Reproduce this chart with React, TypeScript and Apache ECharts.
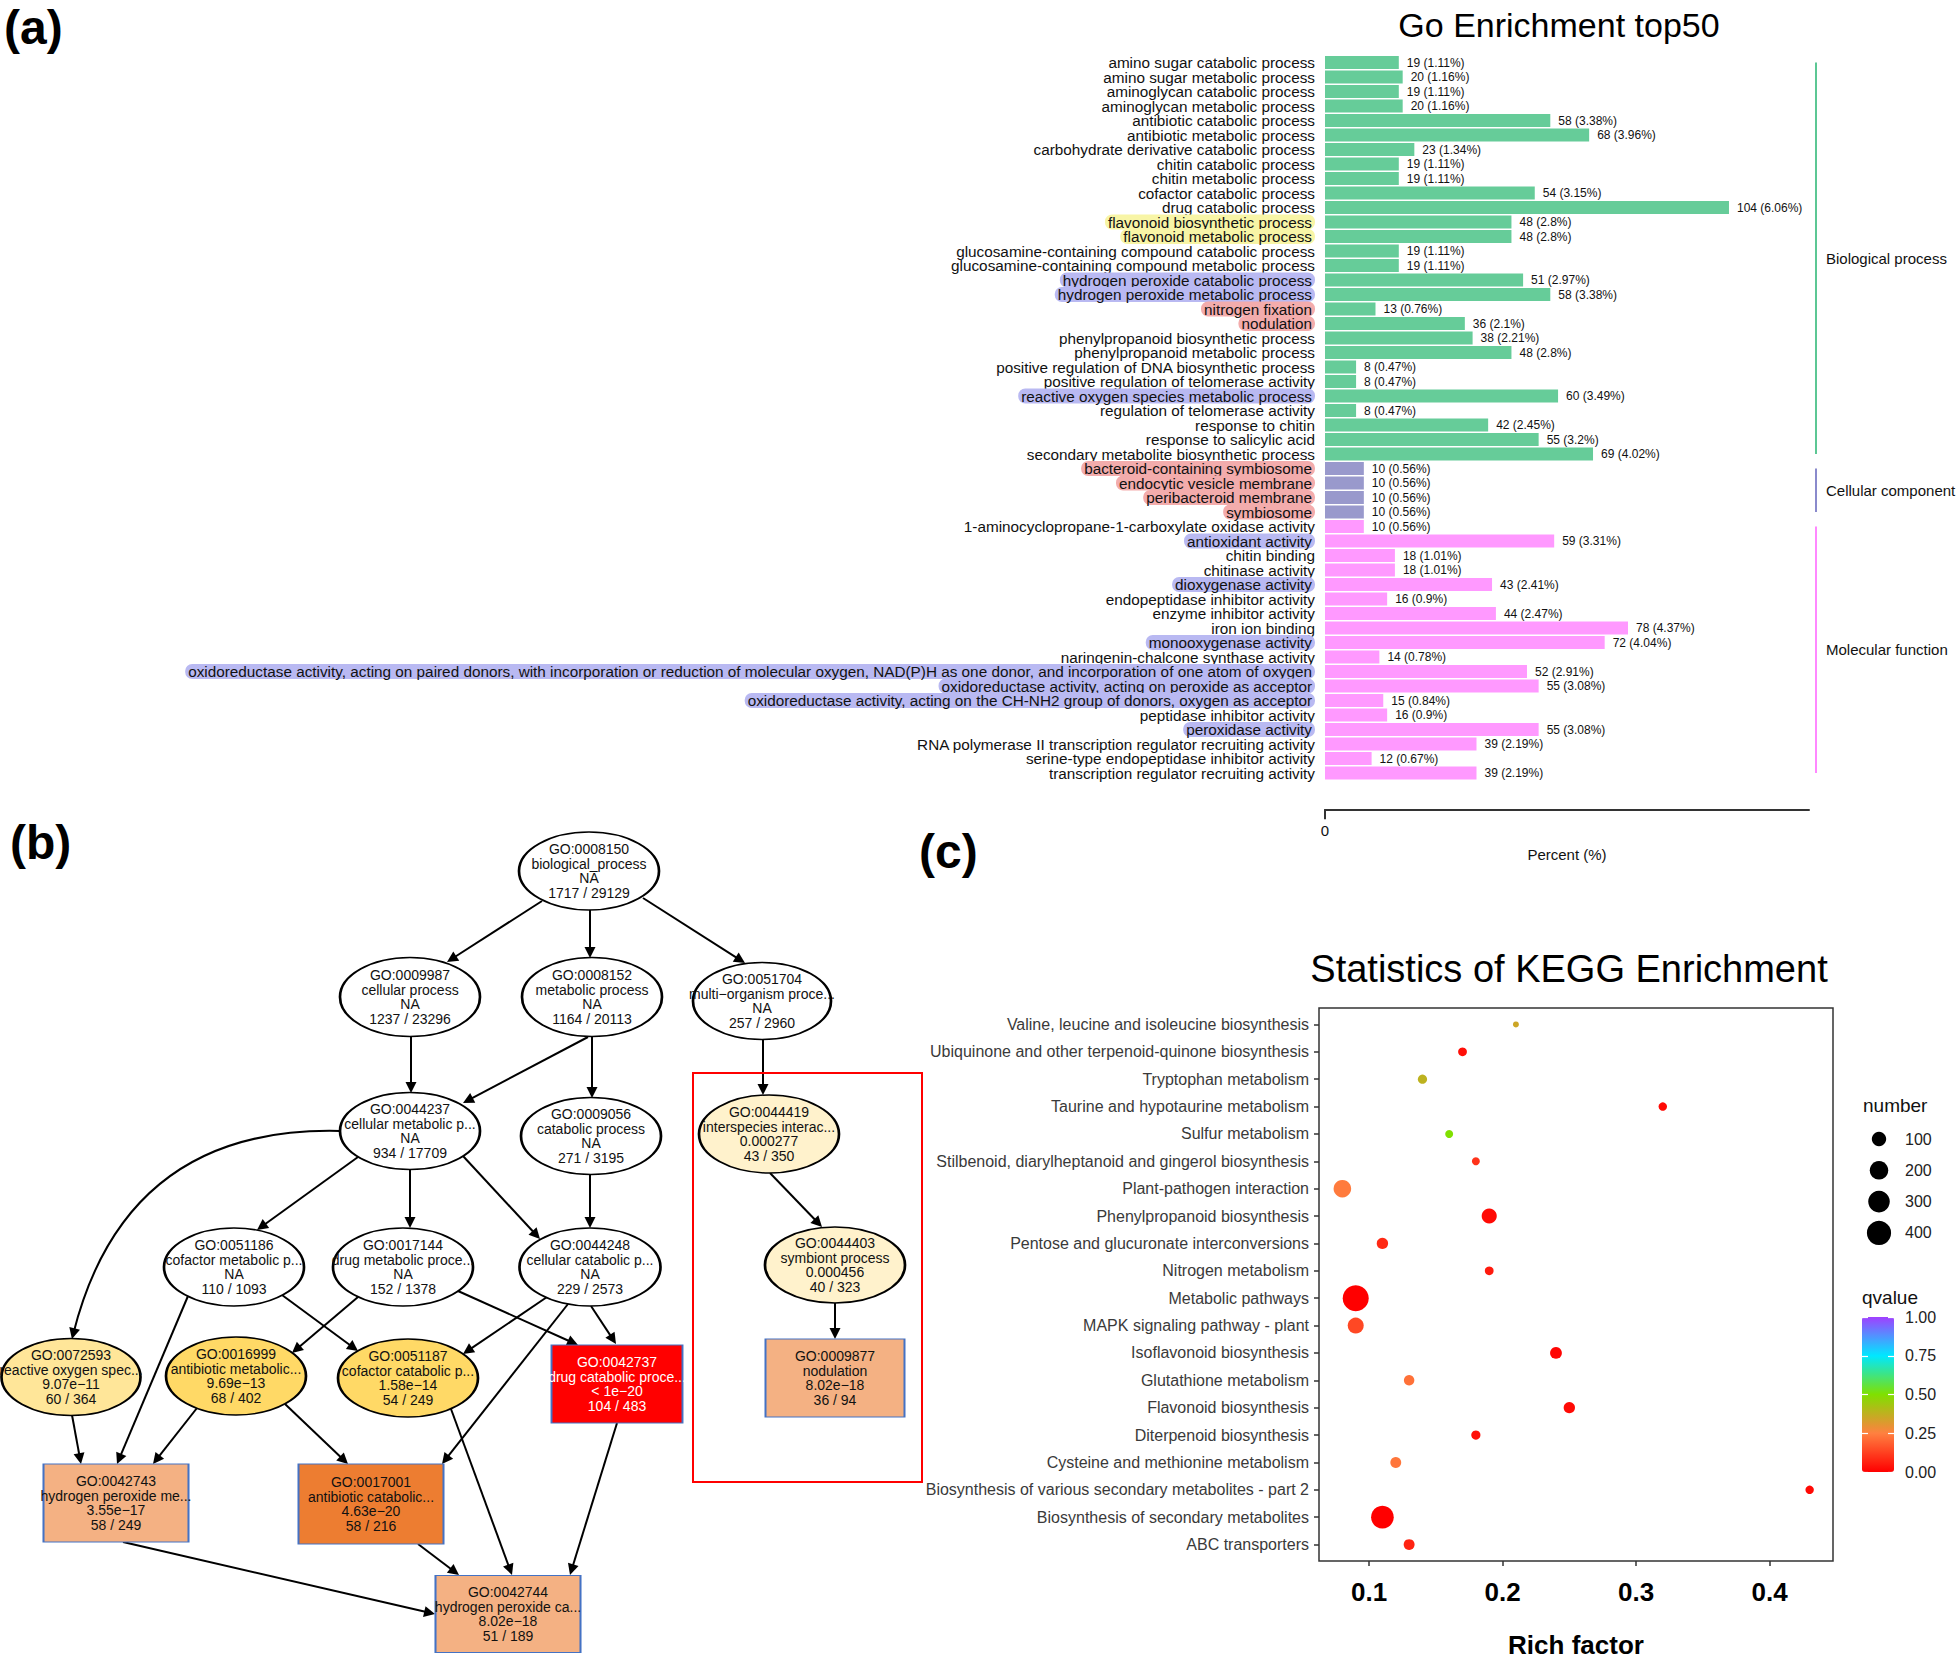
import React, { useEffect, useRef } from 'react';
import * as echarts from 'echarts';

const W = 1959;
const H = 1656;
const FONT = '"Liberation Sans", Arial, Helvetica, sans-serif';

// ---------------- Panel (a): GO enrichment top50 ----------------
const goTerms = [
  'amino sugar catabolic process',
  'amino sugar metabolic process',
  'aminoglycan catabolic process',
  'aminoglycan metabolic process',
  'antibiotic catabolic process',
  'antibiotic metabolic process',
  'carbohydrate derivative catabolic process',
  'chitin catabolic process',
  'chitin metabolic process',
  'cofactor catabolic process',
  'drug catabolic process',
  'flavonoid biosynthetic process',
  'flavonoid metabolic process',
  'glucosamine-containing compound catabolic process',
  'glucosamine-containing compound metabolic process',
  'hydrogen peroxide catabolic process',
  'hydrogen peroxide metabolic process',
  'nitrogen fixation',
  'nodulation',
  'phenylpropanoid biosynthetic process',
  'phenylpropanoid metabolic process',
  'positive regulation of DNA biosynthetic process',
  'positive regulation of telomerase activity',
  'reactive oxygen species metabolic process',
  'regulation of telomerase activity',
  'response to chitin',
  'response to salicylic acid',
  'secondary metabolite biosynthetic process',
  'bacteroid-containing symbiosome',
  'endocytic vesicle membrane',
  'peribacteroid membrane',
  'symbiosome',
  '1-aminocyclopropane-1-carboxylate oxidase activity',
  'antioxidant activity',
  'chitin binding',
  'chitinase activity',
  'dioxygenase activity',
  'endopeptidase inhibitor activity',
  'enzyme inhibitor activity',
  'iron ion binding',
  'monooxygenase activity',
  'naringenin-chalcone synthase activity',
  'oxidoreductase activity, acting on paired donors, with incorporation or reduction of molecular oxygen, NAD(P)H as one donor, and incorporation of one atom of oxygen',
  'oxidoreductase activity, acting on peroxide as acceptor',
  'oxidoreductase activity, acting on the CH-NH2 group of donors, oxygen as acceptor',
  'peptidase inhibitor activity',
  'peroxidase activity',
  'RNA polymerase II transcription regulator recruiting activity',
  'serine-type endopeptidase inhibitor activity',
  'transcription regulator recruiting activity',
];
const goCounts = [
  19, 20, 19, 20, 58, 68, 23, 19, 19, 54, 104, 48, 48, 19, 19, 51, 58, 13, 36, 38, 48, 8, 8, 60, 8, 42, 55, 69,
  10, 10, 10, 10,
  10, 59, 18, 18, 43, 16, 44, 78, 72, 14, 52, 55, 15, 16, 55, 39, 12, 39,
];
const goPercents = [
  1.11, 1.16, 1.11, 1.16, 3.38, 3.96, 1.34, 1.11, 1.11, 3.15, 6.06, 2.8, 2.8, 1.11, 1.11, 2.97, 3.38, 0.76, 2.1, 2.21,
  2.8, 0.47, 0.47, 3.49, 0.47, 2.45, 3.2, 4.02,
  0.56, 0.56, 0.56, 0.56,
  0.56, 3.31, 1.01, 1.01, 2.41, 0.9, 2.47, 4.37, 4.04, 0.78, 2.91, 3.08, 0.84, 0.9, 3.08, 2.19, 0.67, 2.19,
];
const goGroups = [
  'BP', 'BP', 'BP', 'BP', 'BP', 'BP', 'BP', 'BP', 'BP', 'BP', 'BP', 'BP', 'BP', 'BP', 'BP', 'BP', 'BP', 'BP', 'BP', 'BP',
  'BP', 'BP', 'BP', 'BP', 'BP', 'BP', 'BP', 'BP',
  'CC', 'CC', 'CC', 'CC',
  'MF', 'MF', 'MF', 'MF', 'MF', 'MF', 'MF', 'MF', 'MF', 'MF', 'MF', 'MF', 'MF', 'MF', 'MF', 'MF', 'MF', 'MF',
];
// label highlight: y = yellow, b = blue, r = red
const goHighlights = [
  '', '', '', '', '', '', '', '', '', '', '', 'y', 'y', '', '', 'b', 'b', 'r', 'r', '',
  '', '', '', 'b', '', '', '', '',
  'r', 'r', 'r', 'r',
  '', 'b', '', '', 'b', '', '', '', 'b', '', 'b', 'b', 'b', '', 'b', '', '', '',
];
const goGroupOrder = ['BP', 'CC', 'MF'];
const goGroupNames = ['Biological process', 'Cellular component', 'Molecular function'];
const goAxisTicks = [0];

// ---------------- Panel (b): GO DAG ----------------
const dagIds = [
  'GO:0008150', 'GO:0009987', 'GO:0008152', 'GO:0051704', 'GO:0044237', 'GO:0009056', 'GO:0044419',
  'GO:0051186', 'GO:0017144', 'GO:0044248', 'GO:0044403', 'GO:0072593', 'GO:0016999', 'GO:0051187',
  'GO:0042737', 'GO:0009877', 'GO:0042743', 'GO:0017001', 'GO:0042744',
];
const dagNames = [
  'biological_process', 'cellular process', 'metabolic process', 'multi\u2212organism proce...',
  'cellular metabolic p...', 'catabolic process', 'interspecies interac...', 'cofactor metabolic p...',
  'drug metabolic proce...', 'cellular catabolic p...', 'symbiont process', 'reactive oxygen spec...',
  'antibiotic metabolic...', 'cofactor catabolic p...', 'drug catabolic proce...', 'nodulation',
  'hydrogen peroxide me...', 'antibiotic catabolic...', 'hydrogen peroxide ca...',
];
const dagPvalues = [
  'NA', 'NA', 'NA', 'NA', 'NA', 'NA', '0.000277', 'NA', 'NA', 'NA', '0.000456', '9.07e\u221211',
  '9.69e\u221213', '1.58e\u221214', '< 1e\u221220', '8.02e\u221218', '3.55e\u221217', '4.63e\u221220', '8.02e\u221218',
];
const dagCounts = [
  '1717 / 29129', '1237 / 23296', '1164 / 20113', '257 / 2960', '934 / 17709', '271 / 3195', '43 / 350',
  '110 / 1093', '152 / 1378', '229 / 2573', '40 / 323', '60 / 364', '68 / 402', '54 / 249', '104 / 483',
  '36 / 94', '58 / 249', '58 / 216', '51 / 189',
];
const dagEdges = [
  [0, 1], [0, 2], [0, 3], [1, 4], [2, 4], [2, 5], [3, 6], [4, 11], [4, 7], [4, 8], [4, 9], [5, 9], [6, 10],
  [10, 15], [7, 16], [7, 13], [8, 12], [8, 14], [9, 13], [9, 17], [9, 14], [11, 16], [12, 16], [12, 17],
  [13, 18], [14, 18], [17, 18], [16, 18],
];

// layout of the DAG (page pixels)
const dagCenters = [
  [589, 871], [410, 997], [592, 997], [762, 1001], [410, 1131], [591, 1136], [769, 1134], [234, 1267],
  [403, 1267], [590, 1267], [835, 1265], [71, 1377], [236, 1376], [408, 1378], [617, 1384], [835, 1378],
  [116, 1503], [371, 1504], [508, 1614],
];
const dagSizes = [
  [140, 78], [140, 79], [140, 79], [138, 77], [140, 77], [140, 77], [140, 78], [140, 78], [140, 78], [141, 78],
  [140, 76], [139, 77], [140, 78], [140, 78], [131, 78], [139, 78], [145, 78], [145, 80], [145, 77],
];
const dagShapes = [
  'e', 'e', 'e', 'e', 'e', 'e', 'e', 'e', 'e', 'e', 'e', 'e', 'e', 'e', 'r', 'r', 'r', 'r', 'r',
];
const dagFills = [
  '#FFFFFF', '#FFFFFF', '#FFFFFF', '#FFFFFF', '#FFFFFF', '#FFFFFF', '#FFF2CC', '#FFFFFF', '#FFFFFF', '#FFFFFF',
  '#FFF2CC', '#FFE699', '#FFD966', '#FFD966', '#FF0000', '#F4B183', '#F4B183', '#ED7D31', '#F4B183',
];
const edgePorts = [
  [-47, 30, 37, -35], [1, 39, -2, -39], [54, 27, -17, -38], [1, 40, 1, -38], [-4, 40, 53, -28], [0, 40, 1, -38],
  [1, 38, -6, -39], [-70, 0, 1, -38], [-52, 26, 23, -37], [0, 38, 7, -39], [53, 25, -50, -28], [-1, 38, 0, -39],
  [1, 39, -13, -38], [0, 38, 0, -39], [-46, 29, 1, -39], [48, 28, -50, -27], [-45, 30, 56, -23], [55, 24, -39, -39],
  [-43, 30, 55, -24], [-22, 37, 71, -40], [1, 39, -1, -40], [1, 38, -35, -39], [-39, 32, 37, -39], [49, 28, -23, -40],
  [43, 31, 4, -39], [0, 39, 62, -39], [47, 40, -49, -39], [7, 39, -73, 0],
];
const edgeCurves = [0, 0, 0, 0, 0, 0, 0, -0.4, 0, 0, 0, 0, 0, 0, 0, 0, 0, 0, 0, 0, 0, 0, 0, 0, 0, 0, 0, 0];
const ARROW = 11;
const ELLIPSE =
  'path://M0,50 C0,22.4 22.4,0 50,0 C77.6,0 100,22.4 100,50 C100,77.6 77.6,100 50,100 C22.4,100 0,77.6 0,50 Z';

// ---------------- Panel (c): KEGG enrichment ----------------
const keggTerms = [
  'Valine, leucine and isoleucine biosynthesis',
  'Ubiquinone and other terpenoid-quinone biosynthesis',
  'Tryptophan metabolism',
  'Taurine and hypotaurine metabolism',
  'Sulfur metabolism',
  'Stilbenoid, diarylheptanoid and gingerol biosynthesis',
  'Plant-pathogen interaction',
  'Phenylpropanoid biosynthesis',
  'Pentose and glucuronate interconversions',
  'Nitrogen metabolism',
  'Metabolic pathways',
  'MAPK signaling pathway - plant',
  'Isoflavonoid biosynthesis',
  'Glutathione metabolism',
  'Flavonoid biosynthesis',
  'Diterpenoid biosynthesis',
  'Cysteine and methionine metabolism',
  'Biosynthesis of various secondary metabolites - part 2',
  'Biosynthesis of secondary metabolites',
  'ABC transporters',
];
const keggRichFactor = [0.21, 0.17, 0.14, 0.32, 0.16, 0.18, 0.08, 0.19, 0.11, 0.19, 0.09, 0.09, 0.24, 0.13, 0.25, 0.18, 0.12, 0.43, 0.11, 0.13];
const keggNumber = [2, 18, 22, 15, 12, 12, 176, 115, 47, 18, 476, 135, 54, 36, 47, 22, 41, 15, 341, 41];
const keggQvalue = [0.35, 0.03, 0.38, 0.02, 0.5, 0.1, 0.24, 0.02, 0.08, 0.05, 0.0, 0.14, 0.01, 0.22, 0.02, 0.03, 0.23, 0.02, 0.0, 0.07];
const richTicks = [0.1, 0.2, 0.3, 0.4];
const sizeLegendNumbers = [100, 200, 300, 400];
const qvalueTicks = [0, 0.25, 0.5, 0.75, 1];

const sizeFn = (n: number) => 4.6 + 0.98 * Math.sqrt(n);

// GO grid geometry
const GO_LEFT = 1325;
const GO_ROW = 14.5;
const GO_TOP = 62.5 - GO_ROW / 2;
const GO_WIDTH = 484;
const GO_MAX = 124.6;
const GO_COLORS: Record<string, string> = { BP: '#66CC99', CC: '#9999CC', MF: '#FF99FF' };
const GO_LINE_COLORS: Record<string, string> = { BP: '#5CC794', CC: '#8A8ACC', MF: '#FF88FF' };

function edgeCoords(i: number) {
  const [s, t] = dagEdges[i];
  const [sx, sy, ex, ey] = edgePorts[i];
  const p1 = [dagCenters[s][0] + sx, dagCenters[s][1] + sy];
  const tip = [dagCenters[t][0] + ex, dagCenters[t][1] + ey];
  const c = edgeCurves[i];
  let from = p1;
  if (c) {
    from = [(p1[0] + tip[0]) / 2 - (p1[1] - tip[1]) * c, (p1[1] + tip[1]) / 2 - (tip[0] - p1[0]) * c];
  }
  const dx = tip[0] - from[0];
  const dy = tip[1] - from[1];
  const L = Math.hypot(dx, dy);
  const end = [tip[0] - (dx / L) * (ARROW / 2), tip[1] - (dy / L) * (ARROW / 2)];
  return [p1, end];
}

function txt(text: string, x: number, y: number, size: number, opts: any = {}) {
  const align = opts.align || 'left';
  return {
    type: 'text',
    x,
    y,
    z: 20,
    style: {
      text,
      fill: opts.color || '#111',
      fontSize: size,
      fontFamily: FONT,
      fontWeight: opts.bold ? 'bold' : 'normal',
      align,
      textAlign: align,
      verticalAlign: 'middle',
      textVerticalAlign: 'middle',
    },
  };
}

function buildOption(): any {
  const graphics: any[] = [];
  graphics.push(txt('(a)', 4, 27, 48, { bold: true, color: '#000' }));
  graphics.push(txt('(b)', 10, 842, 48, { bold: true, color: '#000' }));
  graphics.push(txt('(c)', 919, 851, 48, { bold: true, color: '#000' }));
  graphics.push(txt('Go Enrichment top50', 1559, 25, 34, { align: 'center', color: '#000' }));
  graphics.push(txt('Statistics of KEGG Enrichment', 1569, 969, 38, { align: 'center', color: '#000' }));
  graphics.push(txt('number', 1863, 1105, 19, { color: '#111' }));
  graphics.push(txt('qvalue', 1862, 1297, 19, { color: '#111' }));

  goGroupOrder.forEach((g, gi) => {
    const idx = goGroups.map((v, i) => (v === g ? i : -1)).filter((i) => i >= 0);
    const y1 = GO_TOP + GO_ROW * (idx[0] + 0.5);
    const y2 = GO_TOP + GO_ROW * (idx[idx.length - 1] + 0.5);
    graphics.push({
      type: 'line',
      z: 20,
      shape: { x1: 1816, y1, x2: 1816, y2 },
      style: { stroke: GO_LINE_COLORS[g], lineWidth: 2 },
    });
    graphics.push(txt(goGroupNames[gi], 1826, (y1 + y2) / 2, 15, { color: '#111' }));
  });

  graphics.push({
    type: 'rect',
    z: 20,
    shape: { x: 693, y: 1073, width: 229, height: 409 },
    style: { fill: 'none', stroke: '#FF0000', lineWidth: 2 },
  });

  const LABEL_FS = 15.3;
  const hl = (bg: string) => ({
    backgroundColor: bg,
    borderRadius: 7,
    padding: [0, 3],
    fontSize: LABEL_FS,
    lineHeight: 14,
    color: '#111',
    fontFamily: FONT,
  });

  const hiddenValueAxis = (gridIndex: number, min: number, max: number, inverse = false) => ({
    type: 'value',
    gridIndex,
    min,
    max,
    inverse,
    show: false,
    axisLine: { onZero: false },
    splitLine: { show: false },
  });

  return {
    animation: false,
    backgroundColor: '#ffffff',
    textStyle: { fontFamily: FONT },
    grid: [
      { left: GO_LEFT, top: GO_TOP, width: GO_WIDTH, height: GO_ROW * goTerms.length, outerBoundsMode: 'none', containLabel: false },
      { left: 1319, top: 1008, width: 514, height: 553, show: true, borderColor: '#333', borderWidth: 1.5, backgroundColor: 'transparent', outerBoundsMode: 'none', containLabel: false },
      { left: 1864, top: 1139 - 15.65, width: 30, height: 31.3 * 4, outerBoundsMode: 'none', containLabel: false },
      { left: 1862, top: 1317, width: 32, height: 155, outerBoundsMode: 'none', containLabel: false },
      { left: 0, top: 0, width: W, height: H, outerBoundsMode: 'none', containLabel: false },
    ],
    xAxis: [
      {
        type: 'value',
        gridIndex: 0,
        min: 0,
        max: GO_MAX,
        offset: 29,
        position: 'bottom',
        axisLine: { show: true, onZero: false, lineStyle: { color: '#333', width: 2 } },
        axisTick: { show: true, length: 10, customValues: goAxisTicks, lineStyle: { color: '#333', width: 2 } },
        axisLabel: { show: true, customValues: goAxisTicks, fontSize: 15, margin: 14, color: '#111', fontFamily: FONT },
        splitLine: { show: false },
        name: 'Percent (%)',
        nameLocation: 'middle',
        nameGap: 38,
        nameTextStyle: { fontSize: 15, color: '#111', fontFamily: FONT },
      },
      {
        type: 'value',
        gridIndex: 1,
        min: 0.0625,
        max: 0.4475,
        position: 'bottom',
        axisLine: { show: false, onZero: false },
        axisTick: { show: true, length: 5, customValues: richTicks, lineStyle: { color: '#333', width: 1.5 } },
        axisLabel: {
          show: true,
          customValues: richTicks,
          formatter: (v: number) => v.toFixed(1),
          fontSize: 26,
          fontWeight: 'bold',
          color: '#000',
          margin: 18,
          fontFamily: FONT,
        },
        splitLine: { show: false },
        name: 'Rich factor',
        nameLocation: 'middle',
        nameGap: 71,
        nameTextStyle: { fontSize: 26, fontWeight: 'bold', color: '#000', fontFamily: FONT },
      },
      hiddenValueAxis(2, -1, 1),
      hiddenValueAxis(3, 0, 1),
      hiddenValueAxis(4, 0, W),
    ],
    yAxis: [
      {
        type: 'category',
        gridIndex: 0,
        inverse: true,
        data: goTerms,
        axisLine: { show: false, onZero: false },
        axisTick: { show: false },
        splitLine: { show: false },
        axisLabel: {
          interval: 0,
          margin: 10,
          fontSize: LABEL_FS,
          color: '#111',
          fontFamily: FONT,
          formatter: (v: string, i: number) => (goHighlights[i] ? `{${goHighlights[i]}|${v}}` : v),
          rich: { y: hl('#F8F5A6'), b: hl('#B9B9F2'), r: hl('#F3ACAC') },
        },
      },
      {
        type: 'value',
        gridIndex: 1,
        min: -0.6,
        max: 19.6,
        inverse: true,
        position: 'left',
        axisLine: { show: false, onZero: false },
        splitLine: { show: false },
        axisTick: {
          show: true,
          length: 5,
          customValues: keggTerms.map((_, i) => i),
          lineStyle: { color: '#333', width: 1.5 },
        },
        axisLabel: {
          show: true,
          customValues: keggTerms.map((_, i) => i),
          formatter: (v: number) => keggTerms[Math.round(v)] || '',
          fontSize: 16,
          color: '#3a3a3a',
          margin: 10,
          fontFamily: FONT,
        },
      },
      {
        type: 'category',
        gridIndex: 2,
        inverse: true,
        position: 'right',
        data: sizeLegendNumbers.map((n) => String(n)),
        axisLine: { show: false, onZero: false },
        axisTick: { show: false },
        splitLine: { show: false },
        axisLabel: { fontSize: 16, color: '#222', margin: 11, fontFamily: FONT },
      },
      {
        type: 'value',
        gridIndex: 3,
        min: 0,
        max: 1,
        position: 'right',
        z: 10,
        axisLine: { show: false, onZero: false },
        splitLine: { show: false },
        axisTick: { show: true, inside: true, length: 6, customValues: qvalueTicks, lineStyle: { color: '#fff', width: 1.2 } },
        axisLabel: {
          show: true,
          customValues: qvalueTicks,
          formatter: (v: number) => v.toFixed(2),
          fontSize: 16,
          color: '#222',
          margin: 11,
          fontFamily: FONT,
        },
      },
      {
        type: 'value',
        gridIndex: 3,
        min: 0,
        max: 1,
        position: 'left',
        z: 10,
        axisLine: { show: false, onZero: false },
        splitLine: { show: false },
        axisTick: { show: true, inside: true, length: 6, customValues: qvalueTicks, lineStyle: { color: '#fff', width: 1.2 } },
        axisLabel: { show: false },
      },
      hiddenValueAxis(4, 0, H, true),
    ],
    visualMap: [
      {
        type: 'continuous',
        seriesIndex: 1,
        dimension: 3,
        min: 0,
        max: 1,
        calculable: false,
        left: 1862,
        top: 1317,
        itemWidth: 32,
        itemHeight: 155,
        padding: 0,
        inRange: { color: ['#FF0000', '#FF8040', '#80E000', '#00E8FF', '#A040FF'] },
      },
    ],
    series: [
      {
        type: 'bar',
        xAxisIndex: 0,
        yAxisIndex: 0,
        barWidth: 13,
        silent: true,
        data: goCounts.map((c, i) => ({ value: c, itemStyle: { color: GO_COLORS[goGroups[i]] } })),
        label: {
          show: true,
          position: 'right',
          distance: 8,
          fontSize: 12,
          color: '#111',
          fontFamily: FONT,
          formatter: (p: any) => `${goCounts[p.dataIndex]} (${goPercents[p.dataIndex]}%)`,
        },
      },
      {
        type: 'scatter',
        xAxisIndex: 1,
        yAxisIndex: 1,
        silent: true,
        symbol: 'circle',
        data: keggTerms.map((_, i) => [keggRichFactor[i], i, keggNumber[i], keggQvalue[i]]),
        symbolSize: (v: number[]) => sizeFn(v[2]),
        itemStyle: { opacity: 1 },
        z: 5,
      },
      {
        type: 'scatter',
        xAxisIndex: 2,
        yAxisIndex: 2,
        silent: true,
        symbol: 'circle',
        data: sizeLegendNumbers.map((n, i) => [0, i, n]),
        symbolSize: (v: number[]) => sizeFn(v[2]),
        itemStyle: { color: '#000', opacity: 1 },
      },
      {
        type: 'lines',
        coordinateSystem: 'cartesian2d',
        xAxisIndex: 4,
        yAxisIndex: 5,
        silent: true,
        symbol: ['none', 'triangle'],
        symbolSize: ARROW,
        lineStyle: { color: '#000', width: 2, opacity: 1 },
        z: 3,
        data: dagEdges.map((_, i) => ({
          coords: edgeCoords(i),
          lineStyle: { curveness: edgeCurves[i], color: '#000', width: 2, opacity: 1 },
        })),
      },
      {
        type: 'scatter',
        xAxisIndex: 4,
        yAxisIndex: 5,
        silent: true,
        z: 4,
        data: dagIds.map((_, i) => ({
          value: dagCenters[i],
          symbol: dagShapes[i] === 'e' ? ELLIPSE : 'rect',
          symbolSize: dagSizes[i],
          itemStyle: {
            color: dagFills[i],
            borderColor: dagShapes[i] === 'e' ? '#000' : '#4472C4',
            borderWidth: dagShapes[i] === 'e' ? 2 : 1.5,
            opacity: 1,
          },
          label: { color: dagFills[i] === '#FF0000' ? '#fff' : '#111' },
        })),
        label: {
          show: true,
          position: 'inside',
          fontSize: 14,
          lineHeight: 14.7,
          fontFamily: FONT,
          formatter: (p: any) =>
            [dagIds[p.dataIndex], dagNames[p.dataIndex], dagPvalues[p.dataIndex], dagCounts[p.dataIndex]].join('\n'),
        },
      },
    ],
    graphic: graphics,
  };
}

export default function App() {
  const ref = useRef<HTMLDivElement>(null);
  useEffect(() => {
    if (!ref.current) return;
    const chart = echarts.init(ref.current, undefined, { renderer: 'svg', width: W, height: H });
    chart.setOption(buildOption());
    return () => chart.dispose();
  }, []);
  return (
    <div
      ref={ref}
      style={{ position: 'absolute', left: 0, top: 0, width: W, height: H, background: '#fff' }}
    />
  );
}
